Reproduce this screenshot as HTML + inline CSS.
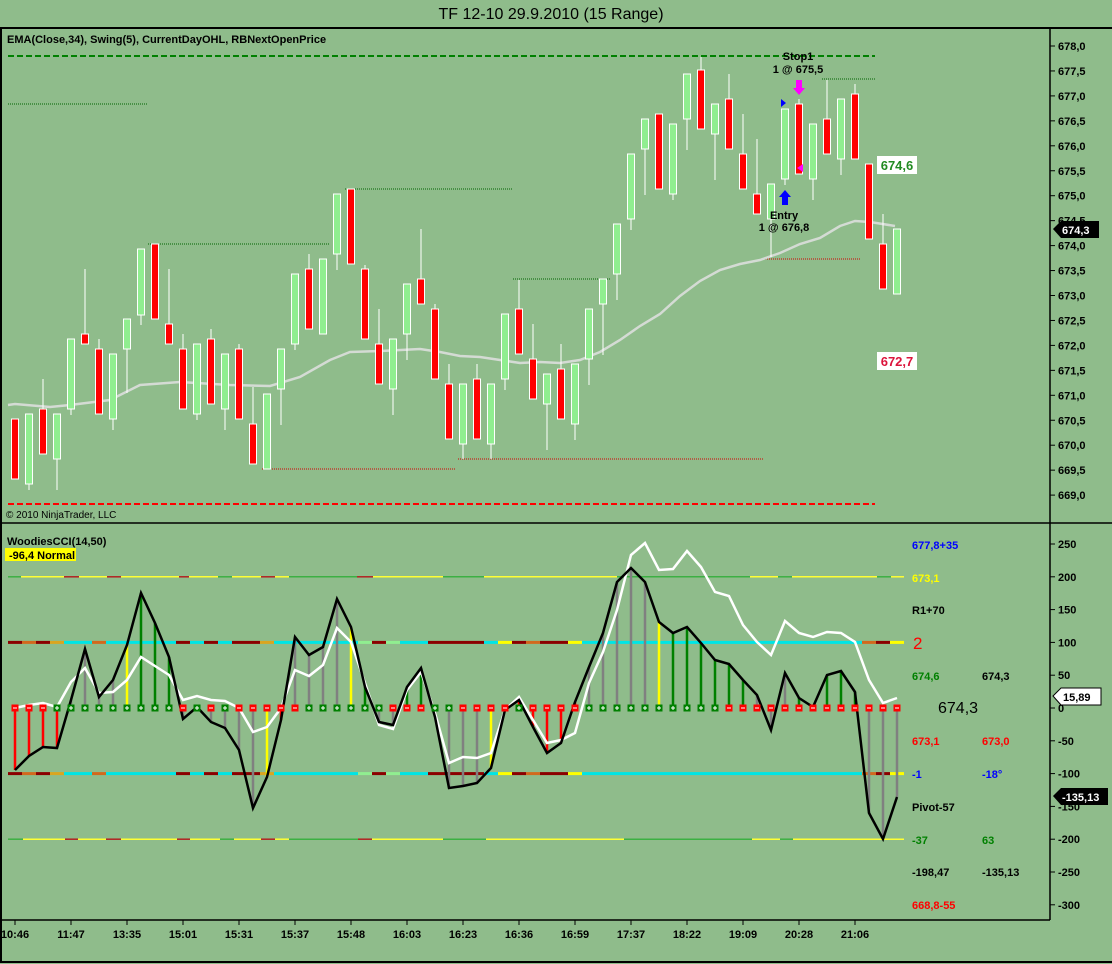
<!DOCTYPE html>
<html><head><meta charset="utf-8"><style>
html,body{margin:0;padding:0;background:#8fbc8b;}
svg{display:block;font-family:"Liberation Sans",sans-serif;}
</style></head><body>
<svg id="s" width="1112" height="964" xmlns="http://www.w3.org/2000/svg">
<rect width="1112" height="964" fill="#8fbc8b"/>
<text x="551" y="19" font-size="16" text-anchor="middle" fill="#000">TF 12-10  29.9.2010 (15 Range)</text>
<line x1="0" y1="28" x2="1112" y2="28" stroke="#000" stroke-width="2"/>
<line x1="1" y1="28" x2="1" y2="962" stroke="#000" stroke-width="2"/>
<line x1="0" y1="523" x2="1112" y2="523" stroke="#000" stroke-width="1.5"/>
<line x1="1050" y1="28" x2="1050" y2="920" stroke="#000" stroke-width="1.5"/>
<line x1="2" y1="920" x2="1050" y2="920" stroke="#000" stroke-width="1.5"/>
<line x1="0" y1="962" x2="1112" y2="962" stroke="#000" stroke-width="2"/>
<text x="7" y="43" font-size="11" font-weight="bold">EMA(Close,34), Swing(5), CurrentDayOHL, RBNextOpenPrice</text>
<text x="6" y="518" font-size="10">© 2010 NinjaTrader, LLC</text>
<text x="7" y="545" font-size="11" font-weight="bold">WoodiesCCI(14,50)</text>
<rect x="5" y="548" width="71" height="13" fill="#ffff00"/>
<text x="9" y="559" font-size="11" font-weight="bold">-96,4 Normal</text>
<g id="g"></g>
</svg>
<script>
(function(){
var g=document.getElementById('g'),h='';
function L(x1,y1,x2,y2,c,w,d){h+='<line x1="'+x1+'" y1="'+y1+'" x2="'+x2+'" y2="'+y2+'" stroke="'+c+'" stroke-width="'+(w||1)+'"'+(d?' stroke-dasharray="'+d+'"':'')+'/>';}
function T(x,y,t,c,s,a,b){h+='<text x="'+x+'" y="'+y+'" fill="'+c+'" font-size="'+(s||11)+'"'+(b===false?'':' font-weight="bold"')+(a?' text-anchor="'+a+'"':'')+'>'+t+'</text>';}
L(8,56,875,56,'#008000',2,'6,3');
L(8,504,875,504,'#ff0000',2,'6,3');
[[8,148,104],[148,330,244],[345,512,189],[513,610,279],[822,875,79]].forEach(function(a){L(a[0],a[2],a[1],a[2],'#006400',1,'1,1');});
[[262,455,469],[458,763,459],[765,860,259]].forEach(function(a){L(a[0],a[2],a[1],a[2],'#d00000',1,'1,1');});
for(var p=678;p>=669;p-=0.5){var y=46+(678-p)*49.9;L(1050,y,1055,y,'#000');T(1058,y+4,p.toFixed(1).replace('.',','),'#000',11);}
var ema=[[8,405],[15,404],[50,407],[70,405],[110,400],[140,385],[180,382],[230,385],[270,386],[300,377],[330,360],[350,352],[380,351],[420,349],[440,352],[460,356],[480,357],[500,360],[520,363],[540,362],[560,363],[580,360],[600,352],[620,340],[640,326],[660,314],[680,296],[700,281],[720,270],[740,264],[760,260],[780,253],[800,244],[820,238],[840,226],[855,221],[870,222],[895,226]];
h+='<polyline points="'+ema.map(function(p){return p.join(',')}).join(' ')+'" fill="none" stroke="#e0e0e0" stroke-width="2.5" opacity="0.85"/>';
var C=[['r',419,479],['g',414,484,0,490],['r',409,454,379],['g',414,459,0,490],['g',339,409,0,415],['r',334,344,269],['r',349,414,339],['g',354,419,0,430],['g',319,349,0,393],['g',249,315,0,325],
['r',244,319],['r',324,344,269],['r',349,409,334],['g',344,414,0,420],['r',339,404,329],['g',354,409,0,430],['r',349,419,344],['r',424,464,387],['g',394,469],['g',349,389,0,425],
['g',274,344,0,350],['r',269,329,254],['g',259,334],['g',194,254,0,270],['r',189,264],['r',269,339,265],['r',344,384,309],['g',339,389,0,415],['g',284,334,0,360],['r',279,304,229],
['r',309,379,304],['r',384,439,364],['g',384,444,0,459],['r',379,439,364],['g',384,444,0,459],['g',314,379,0,390],['r',309,354,280],['r',359,399,324],['g',374,404,0,450],['r',369,419,344],
['g',364,424,0,440],['g',309,359,0,385],['g',279,304,0,355],['g',224,274,0,300],['g',154,219,0,230],['g',119,149,0,195],['r',114,189],['g',124,194,0,200],['g',74,119,0,150],['r',70,129,57],
['g',104,134,0,180],['r',99,149,74],['r',154,189,114],['r',194,214,139],['g',184,219,0,257],['g',109,179,0,185],['r',104,174,99],['g',124,179,0,200],['r',119,154,80],['g',99,159,0,175],
['r',94,159,84],['r',164,239],['r',244,289,214],['g',229,294]];
C.forEach(function(c,i){var x=15+14*i;
 if(c[3])L(x,c[3],x,c[1],'#fff');if(c[4])L(x,c[2],x,c[4],'#fff');
 h+='<rect x="'+(x-3.5)+'" y="'+c[1]+'" width="7" height="'+(c[2]-c[1])+'" fill="'+(c[0]=='r'?'#ff0000':'#90ee90')+'" stroke="#fff" stroke-width="1"/>';});
h+='<path d="M796,80 h6 v8 h3 l-6,7 l-6,-7 h3z" fill="#ff00ff"/>';
h+='<path d="M782,205 h6 v-8 h3 l-6,-7 l-6,7 h3z" fill="#0000ff"/>';
h+='<path d="M781,99 l5,4 l-5,4z" fill="#0000ff"/>';
h+='<path d="M797,168 l6,-4 v8z" fill="#ff00ff"/>';
T(798,60,'Stop1','#000',11,'middle');T(798,73,'1 @ 675,5','#000',11,'middle');
T(784,219,'Entry','#000',11,'middle');T(784,231,'1 @ 676,8','#000',11,'middle');
h+='<rect x="877" y="156" width="40" height="18" fill="#fff"/>';T(897,170,'674,6','#228b22',13,'middle');
h+='<rect x="877" y="352" width="40" height="18" fill="#fff"/>';T(897,366,'672,7','#dc143c',13,'middle');
h+='<path d="M1053,229 l8,-8 h38 v17 h-38z" fill="#000"/>';T(1062,234,'674,3','#fff',11);
function cy(v){return 708-v*0.656;}
for(var v=250;v>=-300;v-=50){var y=cy(v);L(1050,y,1055,y,'#000');T(1058,y+4,v,'#000',11);}
var lvl=['#8b0000','#d2691e','#8b0000','#daa520','#00e5e5','#00e5e5','#d2691e','#00e5e5','#00e5e5','#00e5e5','#00e5e5','#00e5e5','#8b0000','#00e5e5','#8b0000','#00e5e5','#8b0000','#8b0000','#daa520','#00e5e5','#00e5e5','#00e5e5','#00e5e5','#00e5e5','#00e5e5','#90ee90','#8b0000','#90ee90','#00e5e5','#00e5e5','#8b0000','#8b0000','#8b0000','#8b0000','#00e5e5','#ffff00','#8b0000','#d2691e','#8b0000','#8b0000','#ffff00'];
for(var i=0;i<64;i++){var x=8+14*i,c=i<lvl.length?lvl[i]:(i<61?'#00e5e5':(i==61?'#d2691e':i==62?'#8b0000':'#ffff00'));L(x,cy(100),x+14,cy(100),c,3);L(x,cy(-100),x+14,cy(-100),c,3);}
var Y='#ffff33',G='#3cb043',D='#b22222';
var tp=[[8,21,G],[21,64,Y],[64,79,D],[79,107,Y],[107,121,D],[121,179,Y],[179,189,D],[189,218,Y],[218,232,G],[232,261,Y],[261,275,D],[275,289,Y],[289,357,G],[357,373,D],[373,443,Y],[443,484,G],[484,617,Y],[617,750,G],[750,778,Y],[778,792,G],[792,877,Y],[877,891,G],[891,904,Y]];
var bt=[[8,23,G],[23,65,Y],[65,78,D],[78,106,Y],[106,121,D],[121,177,Y],[177,190,D],[190,220,Y],[220,234,G],[234,261,Y],[261,275,D],[275,289,Y],[289,358,G],[358,372,D],[372,443,Y],[443,486,G],[486,624,Y],[624,752,G],[752,780,Y],[780,793,G],[793,904,Y]];
tp.forEach(function(s){L(s[0],cy(200),s[1],cy(200),s[2],1.5);});
bt.forEach(function(s){L(s[0],cy(-200),s[1],cy(-200),s[2],1.5);});
var B=[770,756,747,748,700,649,697,680,645,593,623,657,719,707,722,728,750,808,777,720,637,655,647,599,627,687,722,725,687,668,717,788,786,783,768,710,700,727,753,743,702,667,633,582,568,582,622,633,627,643,660,664,680,695,730,673,698,707,675,671,692,813,839,797];
var W=[708,705,703,707,682,668,693,692,680,657,666,675,700,696,700,701,708,732,727,708,670,676,665,628,642,683,725,729,690,672,713,763,757,758,753,710,697,720,743,740,733,683,652,610,555,543,570,569,551,567,592,596,625,642,655,621,633,637,632,633,642,680,703,698];
var hc='rrrraaaayGGGaaaaaayraaaayGaaGGaaaayarrrrraaaaayGGGGGGaaaGaGGGaaa';
var mk='rrrgggggggggrgrgrrrrrggggggrrrggrrrrgrrrrggggggggggrrrrrrrrrrrrr';
for(var i=0;i<64;i++){var x=15+14*i,k=hc[i],col=k=='r'?'#ff0000':k=='G'?'#008000':k=='y'?'#ffff00':'#808080';L(x,708,x,B[i],col,2.5);}
h+='<polyline points="'+W.map(function(y,i){return (15+14*i)+','+y}).join(' ')+'" fill="none" stroke="#fff" stroke-width="2.5"/>';
h+='<polyline points="'+B.map(function(y,i){return (15+14*i)+','+y}).join(' ')+'" fill="none" stroke="#000" stroke-width="2.5"/>';
for(var i=0;i<64;i++){var x=15+14*i,m=mk[i];h+='<rect x="'+(x-3.5)+'" y="704.5" width="7" height="7" fill="'+(m=='r'?'#ff0000':'#008000')+'"/>';L(x-2,708,x+2,708,'#fff',1);if(m=='g')L(x,706,x,710,'#fff',1);}
T(912,549,'677,8+35','#0000ff');T(912,582,'673,1','#ffff00');T(912,614,'R1+70','#000');
T(913,649,'2','#ff0000',17,null,false);
T(912,680,'674,6','#008000');T(982,680,'674,3','#000');
T(938,713,'674,3','#000',16,null,false);
T(912,745,'673,1','#ff0000');T(982,745,'673,0','#ff0000');
T(912,778,'-1','#0000ff');T(982,778,'-18°','#0000ff');
T(912,811,'Pivot-57','#000');
T(912,844,'-37','#008000');T(982,844,'63','#008000');
T(912,876,'-198,47','#000');T(982,876,'-135,13','#000');
T(912,909,'668,8-55','#ff0000');
h+='<path d="M1053,696 l8,-8 h40 v17 h-40z" fill="#fff" stroke="#000"/>';T(1063,701,'15,89','#000',11);
h+='<path d="M1053,796 l8,-8 h47 v17 h-47z" fill="#000"/>';T(1062,801,'-135,13','#fff',11);
var tl=['10:46','11:47','13:35','15:01','15:31','15:37','15:48','16:03','16:23','16:36','16:59','17:37','18:22','19:09','20:28','21:06'];
tl.forEach(function(t,i){var x=15+56*i;L(x,920,x,925,'#000');T(x,938,t,'#000',11,'middle');});
g.innerHTML=h;
})();
</script>
</body></html>
